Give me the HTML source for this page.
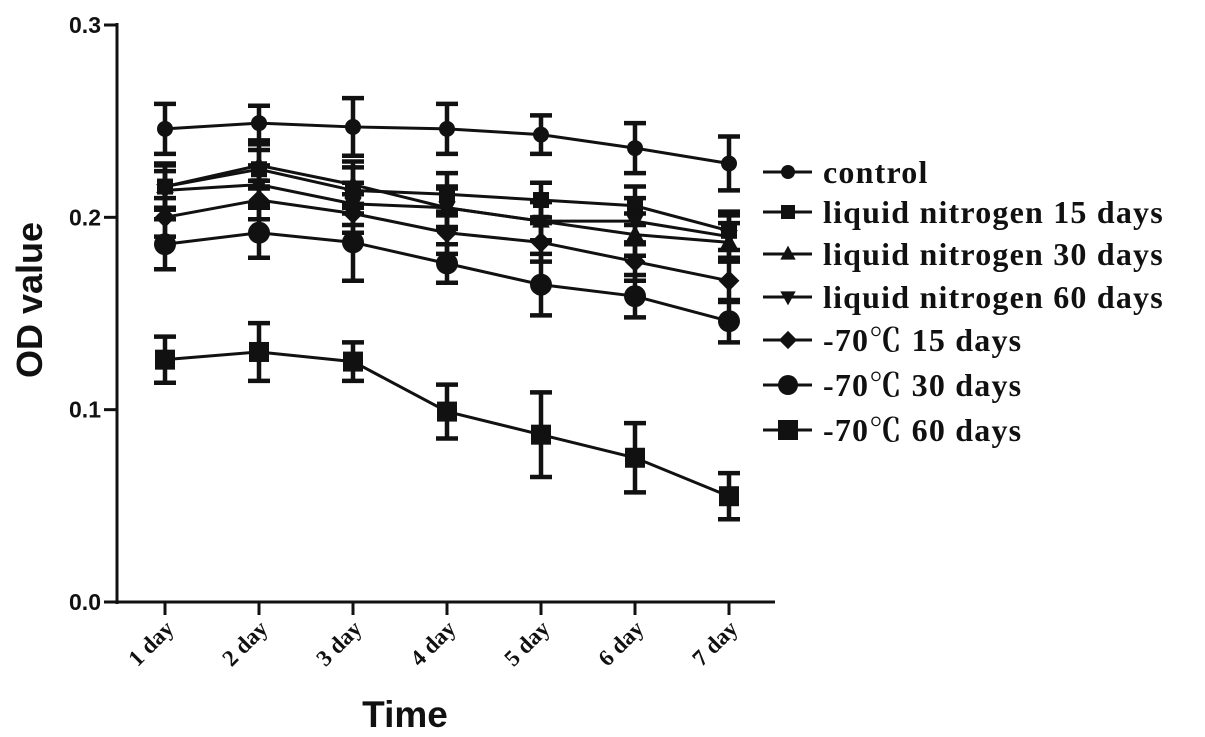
<!DOCTYPE html>
<html><head><meta charset="utf-8"><style>
html,body{margin:0;padding:0;background:#fff;}
svg{display:block;}
</style></head><body>
<svg id="chart" width="1205" height="737" viewBox="0 0 1205 737" xmlns="http://www.w3.org/2000/svg"></svg>
<script>
const categories = ["1 day","2 day","3 day","4 day","5 day","6 day","7 day"];
const yTicks = [0.0, 0.1, 0.2, 0.3];
const yTickLabels = ["0.0","0.1","0.2","0.3"];
const seriesNames = ["control","liquid nitrogen 15 days","liquid nitrogen 30 days","liquid nitrogen  60 days","-70\u2103 15 days","-70\u2103 30 days","-70\u2103 60 days"];
const control = [0.246,0.249,0.247,0.246,0.243,0.236,0.228];
const ln15 = [0.216,0.225,0.214,0.212,0.209,0.206,0.193];
const ln30 = [0.216,0.227,0.217,0.205,0.198,0.191,0.187];
const ln60 = [0.214,0.217,0.207,0.205,0.198,0.198,0.190];
const m15 = [0.200,0.209,0.202,0.192,0.187,0.177,0.167];
const m30 = [0.186,0.192,0.187,0.176,0.165,0.159,0.146];
const m60 = [0.126,0.130,0.125,0.099,0.087,0.075,0.055];
const controlErr = [0.013,0.009,0.015,0.013,0.010,0.013,0.014];
const ln15Err = [0.011,0.010,0.012,0.011,0.009,0.010,0.010];
const ln30Err = [0.012,0.011,0.012,0.011,0.010,0.011,0.010];
const ln60Err = [0.010,0.010,0.011,0.010,0.010,0.012,0.011];
const m15Err = [0.010,0.010,0.010,0.011,0.010,0.010,0.011];
const m30Err = [0.013,0.013,0.020,0.010,0.016,0.011,0.011];
const m60Err = [0.012,0.015,0.010,0.014,0.022,0.018,0.012];

const NS="http://www.w3.org/2000/svg";
const svg=document.getElementById('chart');
const X0=117, Y0=602, Y1=25, XEND=775;
function xs(i){return 165+94*i;}
function ys(v){return Y0-(v/0.3)*(Y0-Y1);}
function mk(tag,attrs,parent){const e=document.createElementNS(NS,tag);for(const k in attrs)e.setAttribute(k,attrs[k]);(parent||svg).appendChild(e);return e;}

let yAxis=mk('line',{x1:X0,y1:Y1-2,x2:X0,y2:Y0+2,stroke:'#111','stroke-width':3});


let xAxis=mk('line',{x1:X0-2,y1:Y0,x2:XEND,y2:Y0,stroke:'#111','stroke-width':3});


yTicks.forEach((t,i)=>{
  let tk=mk('line',{x1:X0-13,y1:ys(t),x2:X0,y2:ys(t),stroke:'#111','stroke-width':3});
  
  
  let tl=mk('text',{x:101,y:ys(t)+8,'text-anchor':'end','font-family':'Liberation Sans, sans-serif','font-weight':'bold','font-size':23,fill:'#111'});
  tl.textContent=yTickLabels[i];
  
  
});
categories.forEach((c,i)=>{
  let tk=mk('line',{x1:xs(i),y1:Y0,x2:xs(i),y2:Y0+13,stroke:'#111','stroke-width':3});
  
  
  let tl=mk('text',{x:xs(i)+10,y:Y0+28,'text-anchor':'end','font-family':'Liberation Serif, serif','font-weight':'bold','font-size':23,fill:'#111',transform:`rotate(-45 ${xs(i)+10} ${Y0+28})`});
  tl.textContent=c;
  
  
});
let yt=mk('text',{x:0,y:0,'text-anchor':'middle','font-family':'Liberation Sans, sans-serif','font-weight':'bold','font-size':36,fill:'#111',transform:'translate(42 300) rotate(-90)'});
yt.textContent='OD value';


let xt=mk('text',{x:405,y:727,'text-anchor':'middle','font-family':'Liberation Sans, sans-serif','font-weight':'bold','font-size':37,fill:'#111'});
xt.textContent='Time';



function marker(type,cx,cy,s,g){
  if(type==='circle') return mk('circle',{cx:cx,cy:cy,r:s,fill:'#111'},g);
  if(type==='square') return mk('rect',{x:cx-s,y:cy-s,width:2*s,height:2*s,fill:'#111'},g);
  if(type==='up') return mk('polygon',{points:`${cx},${cy-s*1.2} ${cx-s*1.1},${cy+s*0.8} ${cx+s*1.1},${cy+s*0.8}`,fill:'#111'},g);
  if(type==='down') return mk('polygon',{points:`${cx},${cy+s*1.2} ${cx-s*1.1},${cy-s*0.8} ${cx+s*1.1},${cy-s*0.8}`,fill:'#111'},g);
  if(type==='diamond') return mk('polygon',{points:`${cx},${cy-s*1.3} ${cx+s*1.3},${cy} ${cx},${cy+s*1.3} ${cx-s*1.3},${cy}`,fill:'#111'},g);
}
const allVals=[control,ln15,ln30,ln60,m15,m30,m60];
const allErr=[controlErr,ln15Err,ln30Err,ln60Err,m15Err,m30Err,m60Err];
const types=['circle','square','up','down','diamond','circle','square'];
const sizes=[8,8,8,8,8,11,10];
const slugs=['control','ln-15','ln-30','ln-60','m70-15','m70-30','m70-60'];
const legendY=[172,212,254,297,340,385,430];
allVals.forEach((vals,s)=>{
  const g=mk('g',{});
  
  
  const pts=vals.map((v,i)=>xs(i)+','+ys(v)).join(' ');
  mk('polyline',{points:pts,fill:'none',stroke:'#111','stroke-width':3},g);
  vals.forEach((v,i)=>{
    const e=allErr[s][i];
    const eb=mk('path',{d:`M${xs(i)},${ys(v+e)}V${ys(v-e)}M${xs(i)-11},${ys(v+e)}H${xs(i)+11}M${xs(i)-11},${ys(v-e)}H${xs(i)+11}`,stroke:'#111','stroke-width':4.5,fill:'none'},g);
    
    
    const m=marker(types[s],xs(i),ys(v),sizes[s],g);
    
    
  });
  const lg=mk('g',{});
  
  
  const ly=legendY[s];
  mk('line',{x1:763,y1:ly,x2:812,y2:ly,stroke:'#111','stroke-width':3},lg);
  marker(types[s],788,ly,s>=5?10:7,lg);
  const t=mk('text',{x:823,y:ly+11,'font-family':'Liberation Serif, "Noto Serif CJK SC", serif','font-weight':'bold','font-size':32,'letter-spacing':'1.2',fill:'#111'},lg);
  t.textContent=seriesNames[s];
});
</script>
</body></html>
